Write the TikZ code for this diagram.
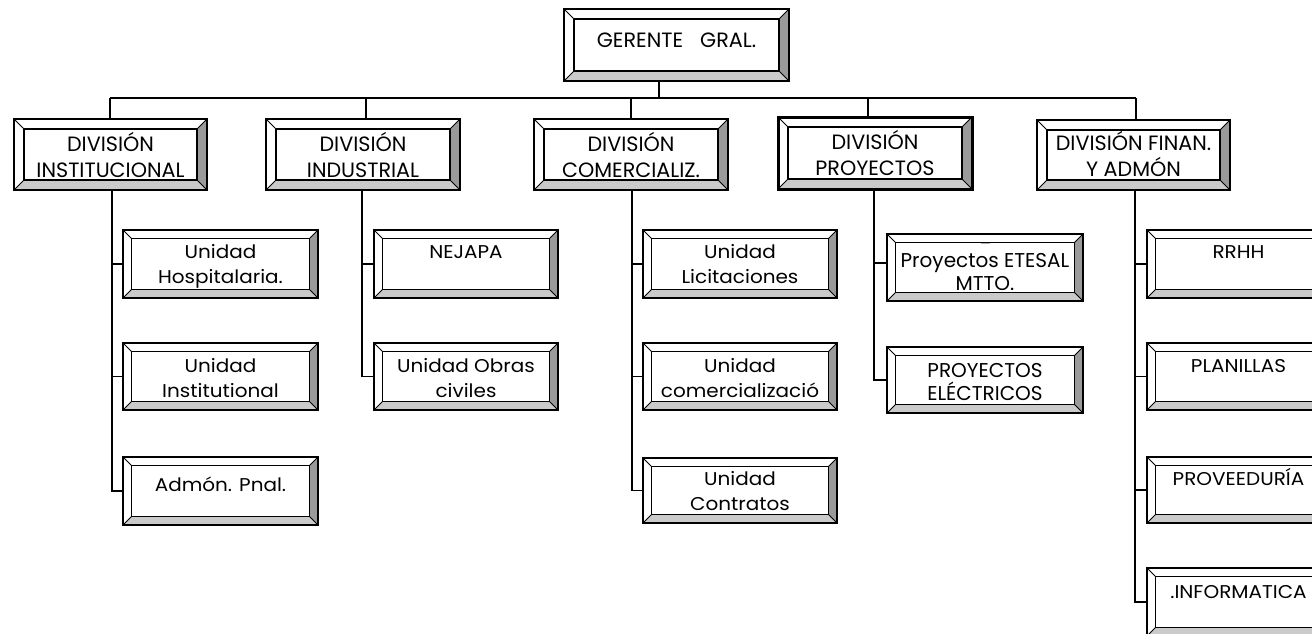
\documentclass[tikz,border=0pt]{standalone}
\usepackage{fontspec}
\newfontfamily\gothic{Poppins}
\newfontfamily\gothicwide[FakeStretch=1.08]{Poppins}

\definecolor{bevdark}{HTML}{9A9A9A}
\definecolor{bevmid}{HTML}{CACACA}

\tikzset{
  bevlight/.style={fill=white},
  bevright/.style={fill=bevdark},
  bevbottom/.style={fill=bevmid},
  bevedge/.style={draw=black, line width=0.8pt},
  faceline/.style={draw=black, line width=1.2pt},
  boxframe/.style={draw=black, line width=1.6pt, inner sep=0pt, outer sep=0pt},
  divtext/.style={anchor=base, inner sep=0pt, font=\gothic\fontsize{20.7}{26}\selectfont},
  unittext/.style={anchor=base, inner sep=0pt, font=\gothicwide\fontsize{18.5}{25.5}\selectfont},
  projtext/.style={anchor=base, inner sep=0pt, font=\gothic\fontsize{20}{23.5}\selectfont},
  wire/.style={draw=black, line width=1.3pt},
  heavywire/.style={draw=black, line width=2.4pt},
  buswire/.style={draw=black, line width=1.8pt},
}

% #1 name, (#2,#3) top-left, (#4,#5) bottom-right, #6 bevel width,
% #7 baseline of first text line, #8 text style, #9 text
\newcommand\orgbox[9]{%
  \fill[bevlight] (#2,#3) -- (#4,#3) -- (#4-#6,#3+#6) -- (#2+#6,#3+#6)
        -- (#2+#6,#5-#6) -- (#2,#5) -- cycle;
  \fill[bevright] (#4,#3) -- (#4,#5) -- (#4-#6,#5-#6) -- (#4-#6,#3+#6) -- cycle;
  \fill[bevbottom] (#2,#5) -- (#4,#5) -- (#4-#6,#5-#6) -- (#2+#6,#5-#6) -- cycle;
  \path[bevedge] (#2,#3) -- (#2+#6,#3+#6) (#4,#3) -- (#4-#6,#3+#6)
        (#2,#5) -- (#2+#6,#5-#6) (#4,#5) -- (#4-#6,#5-#6);
  \path[faceline] (#2+#6,#3+#6) rectangle (#4-#6,#5-#6);
  \node[boxframe, minimum width={(#4-#2)*1pt}, minimum height={(#5-#3)*1pt}]
        (#1) at ({(#2+#4)/2},{(#3+#5)/2}) {};
  \node[#8] (#1-t) at ({(#2+#4)/2},#7) {\parbox[t]{300pt}{\centering #9}};
}

\begin{document}
\begin{tikzpicture}[x=1pt, y=-1pt]
\useasboundingbox (0,0) rectangle (1312,633);
\clip (0,0) rectangle (1312,633);
\fill[white] (0,0) rectangle (1312,633);

% top of the chart
\orgbox{ger}{564}{9}{789}{81}{10}{47}{divtext}{GERENTE\hspace{17pt}GRAL.}

% divisions
\orgbox{dinst}{14}{119}{207}{190}{10}{151}{divtext}{DIVISIÓN\\INSTITUCIONAL}
\orgbox{dind}{266}{119}{460}{190}{10}{151}{divtext}{DIVISIÓN\\INDUSTRIAL}
\orgbox{dcom}{534}{119}{728}{190}{10}{151}{divtext}{DIVISIÓN\\COMERCIALIZ.}
\orgbox{dproy}{778}{117}{972}{189}{10}{149}{divtext}{DIVISIÓN\\PROYECTOS}
\draw[line width=3pt] (dproy.north west) rectangle (dproy.south east);
\orgbox{dfin}{1037}{120}{1230}{190}{10}{150}{divtext}{DIVISIÓN FINAN.\\Y ADMÓN}

% units of the institutional division
\orgbox{ia}{123}{230}{318}{298}{8.5}{258}{unittext}{Unidad\\Hospitalaria.}
\orgbox{ib}{123}{343}{318}{410}{8.5}{372}{unittext}{Unidad\\Institutional}
\orgbox{ic}{123}{457}{318}{525}{8.5}{491}{unittext}{Admón. Pnal.}

% units of the industrial division
\orgbox{na}{374}{230}{558}{298}{8.5}{258}{unittext}{NEJAPA}
\orgbox{nb}{374}{343}{558}{410}{8.5}{372}{unittext}{Unidad Obras\\civiles}

% units of the commercial division
\orgbox{ca}{643}{230}{837}{298}{8.5}{258}{unittext}{Unidad\\Licitaciones}
\orgbox{cb}{643}{343}{837}{410}{8.5}{372}{unittext}{Unidad\\comercializació}
\orgbox{cc}{643}{458}{837}{523}{8.5}{485}{unittext}{Unidad\\Contratos}

% units of the projects division
\orgbox{pa}{887}{234}{1083}{301}{8.5}{267}{projtext}{Proyectos ETESAL\\MTTO.}
\draw[gray!60, line width=0.8pt] (981,243) -- (990,243);
\orgbox{pb}{887}{347}{1083}{413}{8.5}{377}{projtext}{PROYECTOS\\ELÉCTRICOS}
\coordinate (pa-in) at ([yshift=4.5pt]pa.west);

% units of the finance division
\orgbox{fa}{1147}{230}{1330}{298}{8.5}{258}{unittext}{RRHH}
\orgbox{fb}{1147}{343}{1330}{410}{8.5}{372}{unittext}{PLANILLAS}
\orgbox{fc}{1147}{457}{1330}{523}{8.5}{485}{unittext}{PROVEEDURÍA}
\orgbox{fd}{1147}{568}{1330}{636}{8.5}{598}{unittext}{.INFORMATICA}

% main bus
\coordinate (bus-w) at (110,98);
\coordinate (bus-e) at (1136,98);
\coordinate (top-drop) at (659,98);
\path[buswire] (bus-w) -- (bus-e);
\path[buswire] (top-drop |- ger.south) -- (top-drop);

% drops to the divisions
\coordinate (d1) at (110,98);
\coordinate (d2) at (366,98);
\coordinate (d3) at (631,98);
\coordinate (d4) at (868,98);
\coordinate (d5) at (1136,98);
\path[wire] (d1) -- (d1 |- dinst.north);
\path[wire] (d2) -- (d2 |- dind.north);
\path[wire] (d3) -- (d3 |- dcom.north);
\path[wire] (d4) -- (d4 |- dproy.north);
\path[wire] (d5) -- (d5 |- dfin.north);

% spines down to the units
\coordinate (s1) at (112,0);
\coordinate (s2) at (362,0);
\coordinate (s3) at (632,0);
\coordinate (s4) at (874,0);
\coordinate (s5) at (1135,0);

\path[heavywire] (s1 |- dinst.south) -- (s1 |- ib.west);
\path[wire] (s1 |- dinst.south) -- (s1 |- ic.west) -- (ic.west);
\path[wire] (s1 |- ia.west) -- (ia.west);
\path[wire] (s1 |- ib.west) -- (ib.west);

\path[heavywire] (s2 |- dind.south) -- (s2 |- na.west);
\path[wire] (s2 |- dind.south) -- (s2 |- nb.west) -- (nb.west);
\path[wire] (s2 |- na.west) -- (na.west);

\path[heavywire] (s3 |- dcom.south) -- (s3 |- cb.west);
\path[wire] (s3 |- dcom.south) -- (s3 |- cc.west) -- (cc.west);
\path[wire] (s3 |- ca.west) -- (ca.west);
\path[wire] (s3 |- cb.west) -- (cb.west);

\path[heavywire] (s4 |- dproy.south) -- (s4 |- pa-in);
\path[wire] (s4 |- dproy.south) -- (s4 |- pb.west) -- (pb.west);
\path[wire] (s4 |- pa-in) -- (pa-in);

\path[heavywire] (s5 |- dfin.south) -- (s5 |- fc.west);
\path[wire] (s5 |- dfin.south) -- (s5 |- fd.west) -- (fd.west);
\path[wire] (s5 |- fa.west) -- (fa.west);
\path[wire] (s5 |- fb.west) -- (fb.west);
\path[wire] (s5 |- fc.west) -- (fc.west);
\end{tikzpicture}
\end{document}
